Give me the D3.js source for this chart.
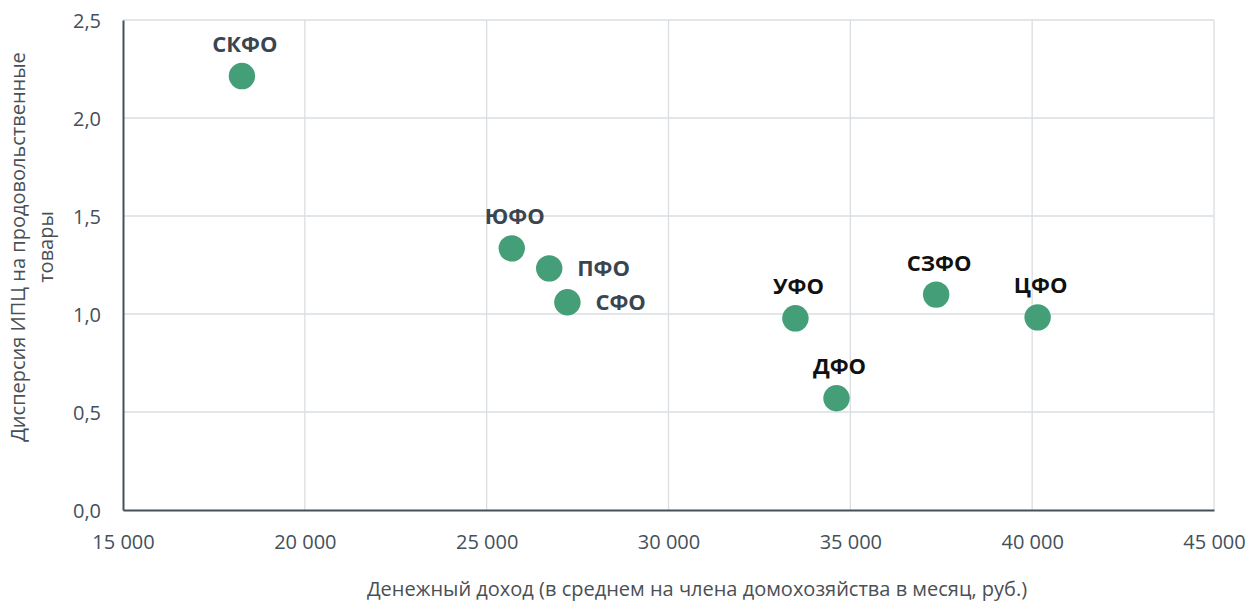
<!DOCTYPE html>
<html><head><meta charset="utf-8">
<script src="https://cdn.jsdelivr.net/npm/d3@7"></script>
<style>
body{margin:0;background:#fff;}
svg{font-family:"Open Sans",sans-serif;}
</style></head><body>
<svg id="c" width="1250" height="603"></svg>
<script>
const regions = ["СКФО","ЮФО","ПФО","СФО","УФО","ДФО","СЗФО","ЦФО"];
const income = [18270, 25690, 26720, 27220, 33490, 34620, 37360, 40150];
const dispersion = [2.214, 1.335, 1.233, 1.060, 0.978, 0.570, 1.099, 0.983];
const labelPos = ["top","top","right","right","top","top","top","top"];
const labelDark = [false,false,false,false,true,true,true,true];
const xTicks = [15000,20000,25000,30000,35000,40000,45000];
const yTicks = [0,0.5,1.0,1.5,2.0,2.5];

const svg = d3.select("#c");
const L=123, R=1214, T=20, B=510;
const x = d3.scaleLinear().domain([15000,45000]).range([L,R]);
const y = d3.scaleLinear().domain([0,2.5]).range([B,T]);
const grid="#d9dee2", axisCol="#44505a";

// gridlines
svg.append("g").selectAll("line").data(xTicks.slice(1)).join("line")
  .attr("x1",d=>x(d)).attr("x2",d=>x(d)).attr("y1",T).attr("y2",B)
  .attr("stroke",grid).attr("stroke-width",1.3);
svg.append("g").selectAll("line").data(yTicks.slice(1)).join("line")
  .attr("x1",L).attr("x2",R).attr("y1",d=>y(d)).attr("y2",d=>y(d))
  .attr("stroke",grid).attr("stroke-width",1.3);

// axes
const fmtX = d => d3.format(",")(d).replace(/,/g," ");
const fmtY = d => d3.format(".1f")(d).replace(".",",");
const xAxis = svg.append("g").attr("transform",`translate(0,${B})`)
  .call(d3.axisBottom(x).tickValues(xTicks).tickFormat(fmtX).tickSize(0).tickPadding(0));
const yAxis = svg.append("g").attr("transform",`translate(${L},0)`)
  .call(d3.axisLeft(y).tickValues(yTicks).tickFormat(fmtY).tickSize(0).tickPadding(22));
[xAxis,yAxis].forEach(a=>{
  a.select(".domain").attr("stroke",axisCol).attr("stroke-width",2);
  a.selectAll("text").attr("fill",axisCol).style("font-size","20px").style("font-family","Open Sans");
});
xAxis.selectAll("text").attr("dy",null).attr("y",39);
yAxis.selectAll("text").attr("dy","0.36em");

// axis titles
svg.append("text").attr("x",697).attr("y",596).attr("text-anchor","middle")
  .attr("fill","#4a4f55").style("font-size","20px").text("Денежный доход (в среднем на члена домохозяйства в месяц, руб.)");
const yt = svg.append("text").attr("transform","translate(25,247) rotate(-90)")
  .attr("text-anchor","middle").attr("fill","#4a4f55").style("font-size","20px");
yt.append("tspan").attr("x",0).attr("dy",0).text("Дисперсия ИПЦ на продовольственные");
yt.append("tspan").attr("x",0).attr("dy",28).text("товары");

// points
const data = regions.map((r,i)=>({r, x:income[i], y:dispersion[i], pos:labelPos[i], dark:labelDark[i]}));
svg.append("g").selectAll("circle").data(data).join("circle")
  .attr("cx",d=>x(d.x)).attr("cy",d=>y(d.y)).attr("r",13.2).attr("fill","#449e77");

// labels
svg.append("g").selectAll("text").data(data).join("text")
  .attr("x",d=>d.pos==="top"? x(d.x)+3 : x(d.x)+28)
  .attr("y",d=>d.pos==="top"? y(d.y)-24 : y(d.y)+8)
  .attr("text-anchor",d=>d.pos==="top"?"middle":"start")
  .attr("fill",d=>d.dark?"#111111":"#3a4550")
  .style("font-size","22px").style("font-weight","bold")
  .text(d=>d.r);
</script></body></html>
